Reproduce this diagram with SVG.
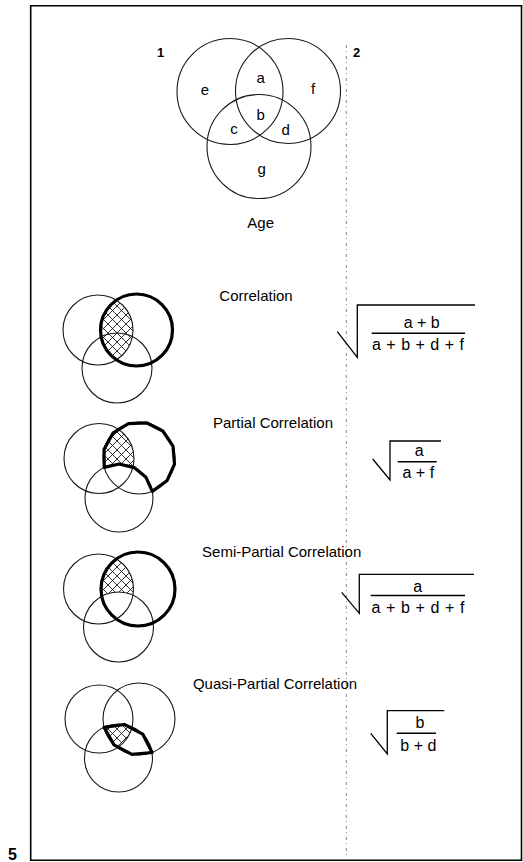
<svg xmlns="http://www.w3.org/2000/svg" width="523" height="862" viewBox="0 0 523 862">
<style>
.thin{fill:none;stroke:#1a1a1a;stroke-width:1.1}
.thick{fill:none;stroke:#000;stroke-width:3.2;stroke-linejoin:round}
.lbl{font-family:"Liberation Sans",Arial,sans-serif;font-size:15px;fill:#000;text-anchor:middle}
.num{font-family:"Liberation Sans",Arial,sans-serif;font-size:13px;font-weight:bold;fill:#000;text-anchor:middle}
.fx{font-family:"Liberation Sans",Arial,sans-serif;font-size:16px;fill:#000;text-anchor:middle}
.rad{fill:none;stroke:#000;stroke-width:1.3}
.bar{stroke:#000;stroke-width:1.6}
</style>
<defs>
<pattern id="hatch" patternUnits="userSpaceOnUse" width="9" height="9">
<path d="M0,0 L9,9 M9,0 L0,9" stroke="#000" stroke-width="0.8" fill="none"/>
</pattern>
<clipPath id="k1a"><circle cx="98" cy="330" r="35"/></clipPath>
<clipPath id="k1b"><circle cx="136.5" cy="330" r="36"/></clipPath>
<clipPath id="k2b"><circle cx="139" cy="458" r="36"/></clipPath>
<mask id="m2" maskUnits="userSpaceOnUse" x="0" y="0" width="523" height="862">
<circle cx="99" cy="458.5" r="35" fill="#fff"/>
<circle cx="119" cy="498" r="34" fill="#000"/>
</mask>
<clipPath id="k3b"><circle cx="138" cy="589" r="37"/></clipPath>
<mask id="m3" maskUnits="userSpaceOnUse" x="0" y="0" width="523" height="862">
<circle cx="98.5" cy="589" r="35" fill="#fff"/>
<circle cx="118.5" cy="627" r="35" fill="#000"/>
</mask>
<clipPath id="k4a"><circle cx="99" cy="719" r="34"/></clipPath>
<clipPath id="k4b"><circle cx="139" cy="719" r="36"/></clipPath>
<clipPath id="k4c"><circle cx="118.5" cy="758" r="34"/></clipPath>
</defs>
<rect width="523" height="862" fill="#fff"/>
<g id="frame">
<path d="M30.7,5.8 H521.5 V860.3 H30.7 Z" fill="none" stroke="#000" stroke-width="1.6"/>
<text x="12.5" y="860" font-family="Liberation Sans,Arial,sans-serif" font-size="16" font-weight="bold" text-anchor="middle">5</text>
</g>
<g id="connectors">
<line x1="346.3" y1="45" x2="346.3" y2="858" stroke="#8a8a8a" stroke-width="1" stroke-dasharray="3 3 1 4"/>
</g>
<g id="venn-top">
<circle class="thin" cx="230" cy="91.5" r="53"/>
<circle class="thin" cx="288" cy="91" r="52.5"/>
<circle class="thin" cx="259" cy="146.5" r="52"/>
<text class="num" x="160.5" y="56.5">1</text>
<text class="num" x="356.7" y="56.5">2</text>
<text class="lbl" x="205" y="94.5">e</text>
<text class="lbl" x="260.7" y="82.5">a</text>
<text class="lbl" x="313" y="94">f</text>
<text class="lbl" x="260.7" y="120">b</text>
<text class="lbl" x="234" y="133.5">c</text>
<text class="lbl" x="285.7" y="135">d</text>
<text class="lbl" x="261.7" y="174">g</text>
<text class="lbl" x="260.7" y="227.5">Age</text>
</g>
<g id="correlation">
<g clip-path="url(#k1b)"><rect x="60" y="290" width="80" height="80" fill="url(#hatch)" clip-path="url(#k1a)"/></g>
<circle class="thin" cx="98" cy="330" r="35"/>
<circle class="thin" cx="117" cy="368" r="35"/>
<circle class="thick" cx="136.5" cy="330" r="36"/>
<text class="lbl" x="256" y="301">Correlation</text>
<path class="rad" d="M337.3,331.7 L357.3,357.3 L357.3,305 L475,305"/>
<text class="fx" x="421.7" y="327.5">a + b</text>
<line class="bar" x1="371.7" y1="333.3" x2="465" y2="333.3"/>
<text class="fx" x="418" y="350" textLength="92" lengthAdjust="spacing">a + b + d + f</text>
</g>
<g id="partial-correlation">
<g clip-path="url(#k2b)"><rect x="60" y="415" width="90" height="90" fill="url(#hatch)" mask="url(#m2)"/></g>
<circle class="thin" cx="99" cy="458.5" r="35"/>
<circle class="thin" cx="139" cy="458" r="36"/>
<circle class="thin" cx="119" cy="498" r="34"/>
<path class="thick" d="M104.2,467.4 L104.1,449.2 L112.9,433.2 L128.4,423.6 L146.5,422.8 L162.8,431 L173,446.1 L174.5,464.2 L166.9,480.8 L152.3,491.4 L146,477.3 L134.2,467.6 L119.2,464 Z"/>
<text class="lbl" x="273" y="427.5">Partial Correlation</text>
<path class="rad" d="M372.7,459 L390,480 L390,441 L441,441"/>
<text class="fx" x="419.3" y="456">a</text>
<line class="bar" x1="397.7" y1="461.7" x2="436.7" y2="461.7"/>
<text class="fx" x="418.3" y="478">a + f</text>
</g>
<g id="semi-partial-correlation">
<g clip-path="url(#k3b)"><rect x="60" y="545" width="90" height="90" fill="url(#hatch)" mask="url(#m3)"/></g>
<circle class="thin" cx="98.5" cy="589" r="35"/>
<circle class="thin" cx="118.5" cy="627" r="35"/>
<circle class="thick" cx="138" cy="589" r="37"/>
<text class="lbl" x="281.7" y="557">Semi-Partial Correlation</text>
<path class="rad" d="M341.7,592.3 L359.3,613.3 L359.3,574.3 L474,574.3"/>
<text class="fx" x="417.7" y="592">a</text>
<line class="bar" x1="370.7" y1="595.5" x2="465" y2="595.5"/>
<text class="fx" x="418" y="613" textLength="93" lengthAdjust="spacing">a + b + d + f</text>
</g>
<g id="quasi-partial-correlation">
<g clip-path="url(#k4a)"><g clip-path="url(#k4b)"><rect x="60" y="680" width="100" height="100" fill="url(#hatch)" clip-path="url(#k4c)"/></g></g>
<circle class="thin" cx="99" cy="719" r="34"/>
<circle class="thin" cx="139" cy="719" r="36"/>
<circle class="thin" cx="118.5" cy="758" r="34"/>
<path class="thick" d="M104,727.3 L124.4,724.5 L142.7,734.1 L152.1,752.5 L131.9,754.3 L114,744.9 Z"/>
<text class="lbl" x="275" y="688.5">Quasi-Partial Correlation</text>
<path class="rad" d="M370.7,733.3 L387.3,754 L387.3,710.7 L444.3,710.7"/>
<text class="fx" x="420" y="727.7">b</text>
<line class="bar" x1="396.7" y1="733.3" x2="436" y2="733.3"/>
<text class="fx" x="418.3" y="750.5">b + d</text>
</g>
</svg>
